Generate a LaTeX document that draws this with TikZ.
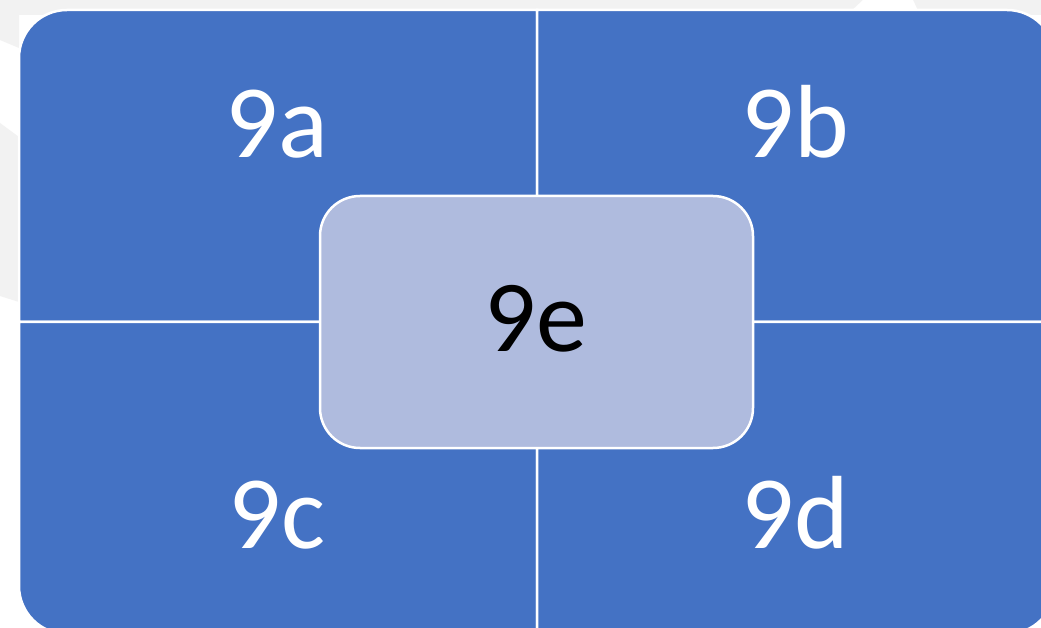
\documentclass[tikz,border=0pt]{standalone}
\usepackage{fontspec}
\setmainfont{Carlito}
\definecolor{quadblue}{HTML}{4472C4}
\definecolor{centerfill}{HTML}{AFBBDE}
\definecolor{bggrey}{HTML}{F2F2F2}
\begin{document}
\begin{tikzpicture}[x=1pt,y=1pt,
  quad/.style={fill=quadblue,draw=white,line width=2.5pt},
  quadlabel/.style={text=white,font=\fontsize{104}{110}\selectfont,inner sep=0pt,anchor=base},
  centerbox/.style={fill=centerfill,draw=white,line width=2.5pt,rounded corners=40pt,
    minimum width=433pt,minimum height=252pt,inner sep=0pt,text=black,
    font=\fontsize{102}{110}\selectfont}]
\useasboundingbox (0,0) rectangle (1041,627);
\clip (0,0) rectangle (1041,627);
% background
\fill[white] (0,0) rectangle (1041,627);
\fill[bggrey] (0,612) rectangle (1041,627);
\fill[bggrey] (0,627) -- (19,627) -- (19,579) -- (0,587) -- cycle;
\fill[bggrey] (0,504) -- (19,490) -- (19,325) -- (0,331) -- cycle;
\fill[white] (847,612) -- (863,627) -- (913,627) -- (920,612) -- cycle;
% quadrants
\draw[quad] (19,305) -- (19,569) arc[start angle=180,end angle=90,radius=48] -- (537,617) -- (537,305) -- cycle;
\draw[quad] (537,305) -- (537,617) -- (1007,617) arc[start angle=90,end angle=0,radius=48] -- (1055,305) -- cycle;
\draw[quad] (19,305) -- (19,41) arc[start angle=180,end angle=270,radius=48] -- (537,-7) -- (537,305) -- cycle;
\draw[quad] (537,305) -- (1055,305) -- (1055,41) arc[start angle=0,end angle=-90,radius=48] -- (537,-7) -- cycle;
% labels
\node[quadlabel] (la) at (277,469) {9a};
\node[quadlabel] (lb) at (795,469) {9b};
\node[quadlabel] (lc) at (277,79) {9c};
\node[quadlabel] (ld) at (795,79) {9d};
% center
\node[centerbox] (e) at (536.5,305) {};
\node[inner sep=0pt,anchor=base,font=\fontsize{102}{110}\selectfont] (le) at (536,275) {9e};
\end{tikzpicture}
\end{document}
